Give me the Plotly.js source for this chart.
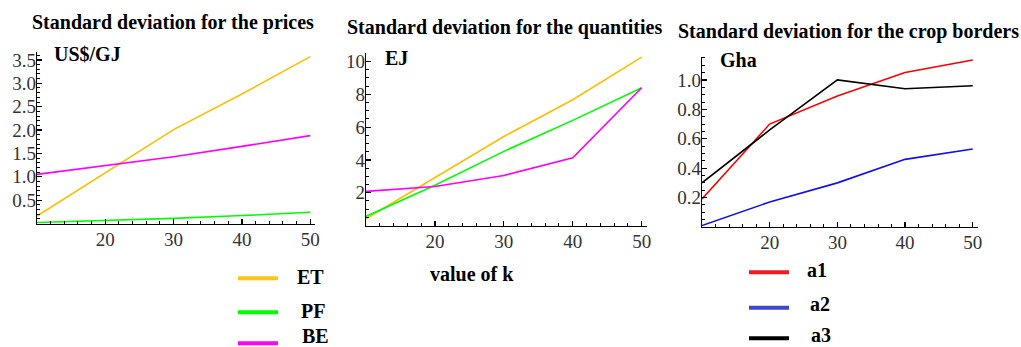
<!DOCTYPE html>
<html>
<head>
<meta charset="utf-8">
<script src="https://cdn.plot.ly/plotly-3.0.1.min.js"></script>
<style>
  html, body { margin: 0; padding: 0; background: #ffffff; }
  #chart { width: 1021px; height: 347px; }
</style>
</head>
<body>
<div id="chart"></div>
<script>
// Values of k on the horizontal axis
const k = [10, 20, 30, 40, 50];

// Standard deviation of prices (US$/GJ)
const priceET = [0.16, 1.08, 2.01, 2.77, 3.57];
const pricePF = [0.02, 0.06, 0.11, 0.17, 0.24];
const priceBE = [1.05, 1.24, 1.43, 1.65, 1.88];

// Standard deviation of quantities (EJ)
const qtyET = [0.41, 2.90, 5.43, 7.67, 10.27];
const qtyPF = [0.55, 2.45, 4.52, 6.41, 8.40];
const qtyBE = [2.08, 2.38, 3.05, 4.13, 8.40];

// Standard deviation of crop borders (Gha)
const cropA1 = [0.19, 0.70, 0.89, 1.05, 1.136];
const cropA2 = [0.01, 0.17, 0.30, 0.46, 0.53];
const cropA3 = [0.30, 0.66, 1.00, 0.94, 0.96];

// Tick labels
const kTickVals = [20, 30, 40, 50];
const kTickText = ['20', '30', '40', '50'];
const priceTickVals = [0.5, 1.0, 1.5, 2.0, 2.5, 3.0, 3.5];
const priceTickText = ['0.5', '1.0', '1.5', '2.0', '2.5', '3.0', '3.5'];
const qtyTickVals = [2, 4, 6, 8, 10];
const qtyTickText = ['2', '4', '6', '8', '10'];
const cropTickVals = [0.2, 0.4, 0.6, 0.8, 1.0];
const cropTickText = ['0.2', '0.4', '0.6', '0.8', '1.0'];

const W = 1021, H = 347;
const px = v => v / W;
const py = v => 1 - v / H;

const SERIF = "'Liberation Serif', 'Times New Roman', serif";
const COL = {
  ET: '#FFBF00', PF: '#00FF00', BE: '#FF00FF',
  a1: '#FF0000', a2: '#1010F0', a3: '#000000'
};

function line(x, y, color, xa, ya, name) {
  return {
    x: x, y: y, type: 'scatter', mode: 'lines', name: name,
    xaxis: xa, yaxis: ya, showlegend: false, hoverinfo: 'skip',
    line: { color: color, width: 1.6 }
  };
}

const traces = [
  line(k, priceET, COL.ET, 'x', 'y', 'ET'),
  line(k, pricePF, COL.PF, 'x', 'y', 'PF'),
  line(k, priceBE, COL.BE, 'x', 'y', 'BE'),
  line(k, qtyET, COL.ET, 'x2', 'y2', 'ET'),
  line(k, qtyPF, COL.PF, 'x2', 'y2', 'PF'),
  line(k, qtyBE, COL.BE, 'x2', 'y2', 'BE'),
  line(k, cropA1, COL.a1, 'x3', 'y3', 'a1'),
  line(k, cropA2, COL.a2, 'x3', 'y3', 'a2'),
  line(k, cropA3, COL.a3, 'x3', 'y3', 'a3')
];

function tickFont() {
  return { family: SERIF, size: 19, color: '#333333' };
}

function xAxis(domain, anchor) {
  return {
    domain: domain, anchor: anchor, range: [10, 50.7],
    showgrid: false, zeroline: false, showline: true,
    linecolor: '#000000', linewidth: 1.2,
    tickmode: 'array', tickvals: kTickVals, ticktext: kTickText,
    ticks: 'inside', ticklen: 5, tickwidth: 1.2, tickcolor: '#000000',
    tickfont: tickFont(), ticklabelstandoff: -2,
    minor: { tickmode: 'linear', tick0: 10, dtick: 2, ticks: 'inside', ticklen: 3, tickwidth: 1, tickcolor: '#000000' },
    fixedrange: true
  };
}

function yAxis(domain, anchor, range, vals, text, minorStep) {
  return {
    domain: domain, anchor: anchor, range: range,
    showgrid: false, zeroline: false, showline: true,
    linecolor: '#000000', linewidth: 1.2,
    tickmode: 'array', tickvals: vals, ticktext: text,
    ticks: 'inside', ticklen: 5, tickwidth: 1.2, tickcolor: '#000000',
    tickfont: tickFont(), ticklabelstandoff: -4,
    minor: { tickmode: 'linear', tick0: 0, dtick: minorStep, ticks: 'inside', ticklen: 3, tickwidth: 1, tickcolor: '#000000' },
    fixedrange: true
  };
}

function txt(text, x, y, size, anchor) {
  return {
    text: '<b>' + text + '</b>', xref: 'paper', yref: 'paper',
    x: px(x), y: py(y), xanchor: anchor || 'center', yanchor: 'middle',
    showarrow: false, font: { family: SERIF, size: size, color: '#000000' }
  };
}

function swatch(x0, x1, y, color) {
  return {
    type: 'line', xref: 'paper', yref: 'paper',
    x0: px(x0), x1: px(x1), y0: py(y), y1: py(y),
    line: { color: color, width: 4 }
  };
}

const layout = {
  width: W, height: H,
  margin: { l: 0, r: 0, t: 0, b: 0 },
  font: { family: SERIF, size: 19, color: '#333333' },
  paper_bgcolor: '#ffffff', plot_bgcolor: 'rgba(0,0,0,0)',
  showlegend: false,
  xaxis: xAxis([px(37), px(315)], 'y'),
  yaxis: yAxis([py(223.5), py(52)], 'x', [0, 3.67], priceTickVals, priceTickText, 0.1),
  xaxis2: xAxis([px(366), px(646.5)], 'y2'),
  yaxis2: yAxis([py(225.5), py(53.3)], 'x2', [0, 10.5], qtyTickVals, qtyTickText, 0.5),
  xaxis3: xAxis([px(702), px(977.5)], 'y3'),
  yaxis3: yAxis([py(227), py(56.7)], 'x3', [0, 1.158], cropTickVals, cropTickText, 0.05),
  annotations: [
    txt('Standard deviation for the prices', 173, 22, 20),
    txt('Standard deviation for the quantities', 504, 27, 20),
    txt('Standard deviation for the crop borders', 848, 31, 20),
    txt('US$/GJ', 52, 54, 20, 'left'),
    txt('EJ', 383, 58, 20, 'left'),
    txt('Gha', 718, 60, 20, 'left'),
    txt('value of k', 428, 274, 20, 'left'),
    txt('ET', 295, 277, 20, 'left'),
    txt('PF', 299, 311, 20, 'left'),
    txt('BE', 300, 336, 20, 'left'),
    txt('a1', 805, 270, 20, 'left'),
    txt('a2', 808, 304, 20, 'left'),
    txt('a3', 809, 335, 20, 'left')
  ],
  shapes: [
    swatch(238, 278, 278.3, '#FFC512'),
    swatch(238, 278, 312.3, '#00FF00'),
    swatch(238, 278, 343.3, '#FF00FF'),
    swatch(749, 789, 272.3, '#ED1C24'),
    swatch(749, 789, 307.7, '#3F48CC'),
    swatch(749, 789, 338.3, '#000000')
  ]
};

Plotly.newPlot('chart', traces, layout, { staticPlot: true, displayModeBar: false });
</script>
</body>
</html>
